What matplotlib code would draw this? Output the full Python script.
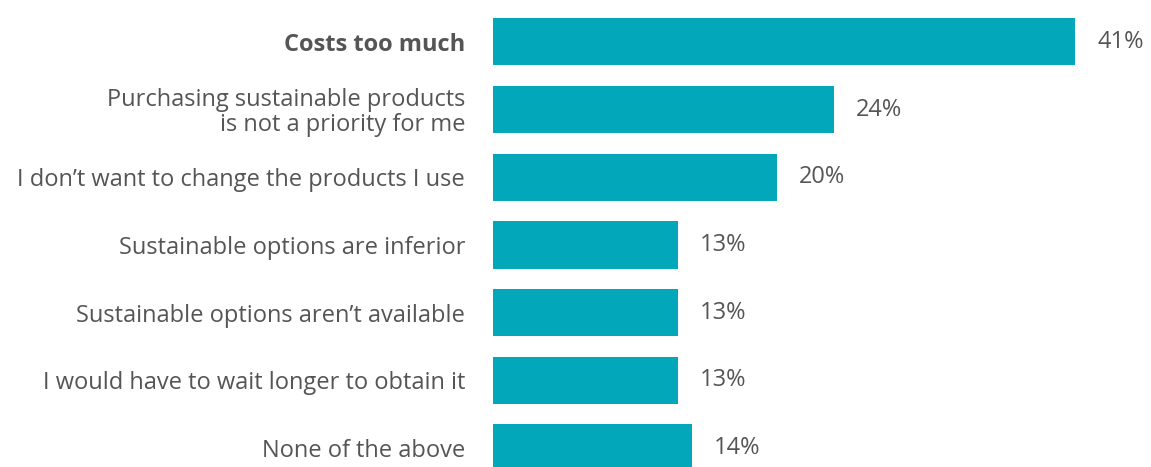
import matplotlib.pyplot as plt

# Data
reasons = [
    "Costs too much",
    "Purchasing sustainable products\nis not a priority for me",
    "I don\u2019t want to change the products I use",
    "Sustainable options are inferior",
    "Sustainable options aren\u2019t available",
    "I would have to wait longer to obtain it",
    "None of the above",
]
shares = [41, 24, 20, 13, 13, 13, 14]

bar_color = "#02A7BA"
text_color = "#555555"

plt.rcParams["font.family"] = ["Open Sans", "DejaVu Sans"]

fig = plt.figure(figsize=(11.51, 4.67), dpi=100)
ax = fig.add_axes([493 / 1151, 0, 1 - 493 / 1151, 1])

ypos = list(range(len(reasons)))
ax.barh(ypos, shares, height=0.70, color=bar_color)

# value labels
for y, v in zip(ypos, shares):
    ax.annotate(f"{v}%", xy=(v, y), xytext=(16, 0), textcoords="offset points",
                va="center", ha="left", fontsize=17, color=text_color)

ax.set_yticks(ypos)
ax.set_yticklabels(reasons, fontsize=17, color=text_color, linespacing=1.05)
ax.get_yticklabels()[0].set_fontweight("bold")
ax.tick_params(axis="y", length=0, pad=20)
ax.set_xticks([])

# pixel scale: 14.2 px per percent, 67.7 px per row
ax.set_xlim(0, 658 / 14.2)
ax.set_ylim((467 - 41.8) / 67.7, -41.8 / 67.7)
for s in ax.spines.values():
    s.set_visible(False)

fig.savefig("out.png", dpi=100)
